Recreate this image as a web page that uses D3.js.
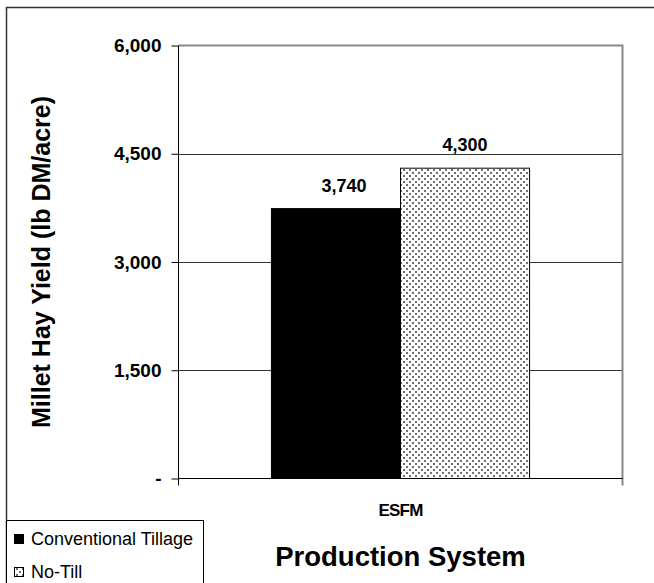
<!DOCTYPE html>
<html>
<head>
<meta charset="utf-8">
<script src="https://cdn.jsdelivr.net/npm/d3@7"></script>
<style>
  html, body { margin: 0; padding: 0; background: #fff; }
  svg { display: block; font-family: "Liberation Sans", Arial, sans-serif; }
</style>
</head>
<body>
<svg id="chart" width="654" height="583"></svg>
<script>
// Millet hay yield by tillage system
const categories = ["ESFM"];
const seriesNames = ["Conventional Tillage", "No-Till"];
const conventionalTillage = [3740];
const noTill = [4300];
const yTicks = [0, 1500, 3000, 4500, 6000];
const yTickLabels = ["-", "1,500", "3,000", "4,500", "6,000"];

const svg = d3.select("#chart");
const W = 654, H = 583;
const plot = { left: 178.5, right: 622.5, top: 45.5, bottom: 478.5 };

// Dotted fill for the no-till bars
const defs = svg.append("defs");
const pat = defs.append("pattern")
  .attr("id", "dots").attr("patternUnits", "userSpaceOnUse")
  .attr("width", 6).attr("height", 6);
pat.append("rect").attr("width", 6).attr("height", 6).attr("fill", "#fff");
pat.append("rect").attr("x", 1).attr("y", 1).attr("width", 2).attr("height", 2).attr("fill", "#707070");
pat.append("rect").attr("x", 4).attr("y", 4).attr("width", 2).attr("height", 2).attr("fill", "#707070");

// Outer frame
svg.append("rect")
  .attr("x", 6.5).attr("y", 7.5).attr("width", W).attr("height", H)
  .attr("fill", "none").attr("stroke", "#333").attr("stroke-width", 1.5);

const x0 = d3.scaleBand().domain(categories).range([plot.left, plot.right]);
const x1 = d3.scaleBand().domain(seriesNames).range([0, x0.bandwidth()]).paddingOuter(0.72).paddingInner(0);
const y = d3.scaleLinear().domain([0, 6000]).range([plot.bottom, plot.top]);

// Gridlines
svg.append("g").selectAll("line")
  .data(yTicks.filter(t => t > 0 && t < 6000))
  .join("line")
  .attr("x1", plot.left).attr("x2", plot.right)
  .attr("y1", d => Math.round(y(d)) + 0.5).attr("y2", d => Math.round(y(d)) + 0.5)
  .attr("stroke", "#333").attr("stroke-width", 1);

// Plot frame top / right
svg.append("path")
  .attr("d", `M${plot.left},${plot.top}H${plot.right}V${plot.bottom + 7}`)
  .attr("fill", "none").attr("stroke", "#888").attr("stroke-width", 2);

// Bars with value labels
const rows = categories.map((c, i) => ({ cat: c, values: [conventionalTillage[i], noTill[i]] }));
const fills = ["#000", "url(#dots)"];
const labelShift = [8, 0];
const g = svg.append("g");
rows.forEach(r => {
  r.values.forEach((v, j) => {
    const bx = x0(r.cat) + x1(seriesNames[j]);
    g.append("rect")
      .attr("x", bx).attr("y", y(v))
      .attr("width", x1.bandwidth()).attr("height", y(0) - y(v))
      .attr("fill", fills[j]).attr("stroke", "#000").attr("stroke-width", 1);
    g.append("text")
      .attr("x", bx + x1.bandwidth() / 2 + labelShift[j]).attr("y", y(v) - 17)
      .attr("text-anchor", "middle").attr("font-weight", "bold").attr("font-size", 18)
      .text(d3.format(",")(v));
  });
});

// Y axis
const yAxis = d3.axisLeft(y).tickValues(yTicks)
  .tickFormat((d, i) => yTickLabels[i]).tickSize(7).tickPadding(10);
const ya = svg.append("g").attr("transform", `translate(${plot.left},0)`).call(yAxis);
ya.select(".domain").attr("stroke", "#000").attr("d", `M0,${plot.top}V${plot.bottom + 7}`);
ya.selectAll(".tick line").attr("stroke", "#000");
ya.selectAll(".tick text").attr("font-size", 19).attr("font-weight", "bold")
  .attr("font-family", "Liberation Sans, Arial, sans-serif").attr("fill", "#000");

// X axis
const xAxis = d3.axisBottom(x0).tickSize(0).tickPadding(25);
const xa = svg.append("g").attr("transform", `translate(0,${plot.bottom})`).call(xAxis);
xa.select(".domain").attr("stroke", "#000").attr("d", `M${plot.left},0H${plot.right}`);
xa.selectAll(".tick text").attr("font-size", 17).attr("font-weight", "bold")
  .attr("letter-spacing", -0.8)
  .attr("font-family", "Liberation Sans, Arial, sans-serif").attr("fill", "#000");

// Axis titles
svg.append("text")
  .attr("transform", `translate(50,262) rotate(-90)`)
  .attr("text-anchor", "middle").attr("font-weight", "bold").attr("font-size", 25)
  .text("Millet Hay Yield (lb DM/acre)");
svg.append("text")
  .attr("x", (plot.left + plot.right) / 2).attr("y", 566)
  .attr("text-anchor", "middle").attr("font-weight", "bold").attr("font-size", 27.5)
  .text("Production System");

// Legend
const lg = svg.append("g");
lg.append("rect").attr("x", 6.5).attr("y", 520.5).attr("width", 197).attr("height", 80)
  .attr("fill", "#fff").attr("stroke", "#000").attr("stroke-width", 1);
seriesNames.forEach((s, i) => {
  const yy = 539 + i * 33;
  lg.append("rect").attr("x", 14.5).attr("y", yy - 4.5).attr("width", 9).attr("height", 9)
    .attr("fill", fills[i]).attr("stroke", "#000").attr("stroke-width", 1);
  lg.append("text").attr("x", 31).attr("y", yy + 6)
    .attr("font-size", 18).text(s);
});
</script>
</body>
</html>
